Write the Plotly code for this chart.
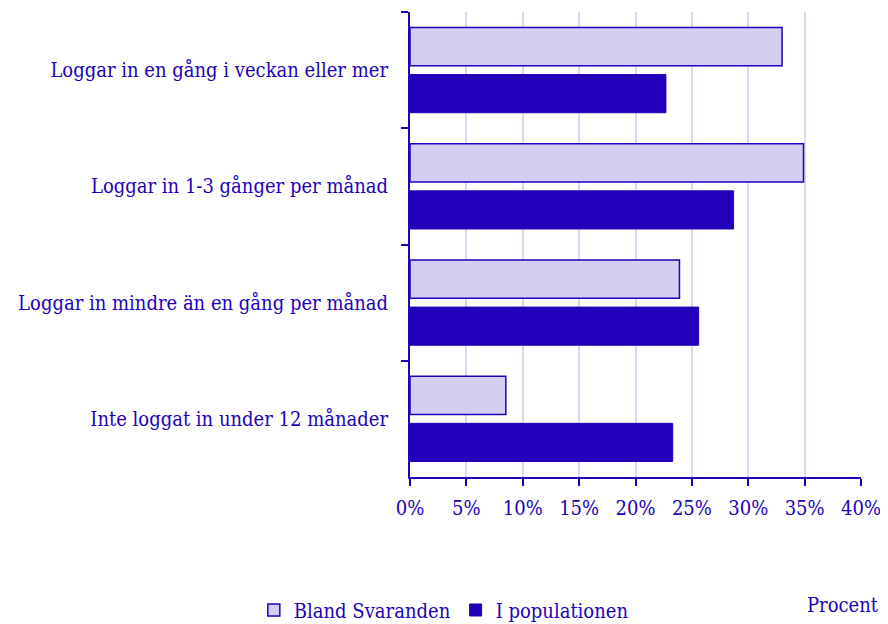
import plotly.graph_objects as go

categories = [
    "Loggar in en gång i veckan eller mer",
    "Loggar in 1-3 gånger per månad",
    "Loggar in mindre än en gång per månad",
    "Inte loggat in under 12 månader",
]
bland_svaranden = [33.0, 34.9, 23.9, 8.5]
i_populationen = [22.7, 28.7, 25.6, 23.3]
tick_vals = [0, 5, 10, 15, 20, 25, 30, 35, 40]
tick_text = ["0%", "5%", "10%", "15%", "20%", "25%", "30%", "35%", "40%"]

BLUE = "#2200bb"
LIGHT = "#d3cef2"
GRID = "#d9d7f1"
FONT = "DejaVu Serif Condensed, DejaVu Serif"

fig = go.Figure()
fig.add_trace(go.Bar(
    y=categories, x=bland_svaranden, orientation="h", name="Bland Svaranden",
    marker=dict(color=LIGHT, line=dict(color=BLUE, width=1.5)),
))
fig.add_trace(go.Bar(
    y=categories, x=i_populationen, orientation="h", name="I populationen",
    marker=dict(color=BLUE, line=dict(color=BLUE, width=1)),
))

fig.update_layout(
    width=888, height=624,
    margin=dict(l=402, r=35, t=4, b=155, autoexpand=False),
    paper_bgcolor="white", plot_bgcolor="white",
    barmode="group", bargap=0.19, bargroupgap=0.19,
    font=dict(family=FONT, color=BLUE, size=20),
    showlegend=True,
    legend=dict(orientation="h", x=0.075, xanchor="center", y=-0.286, yanchor="middle",
                font=dict(size=20), traceorder="normal", itemwidth=30),
    annotations=[dict(text="Procent", xref="paper", yref="paper", x=1.045, y=-0.275,
                      xanchor="right", yanchor="middle", showarrow=False,
                      font=dict(size=20, color=BLUE))],
)
fig.update_xaxes(
    range=[0, 40], tickvals=tick_vals, ticktext=tick_text, automargin=False,
    showgrid=True, gridcolor=GRID, gridwidth=2,
    showline=True, linecolor=BLUE, linewidth=2,
    ticks="outside", ticklen=7, tickcolor=BLUE, tickwidth=2,
    ticklabelstandoff=5, tickfont=dict(size=20),
    zeroline=False, fixedrange=True,
)
fig.update_yaxes(
    autorange="reversed", showgrid=False, automargin=False,
    showline=True, linecolor=BLUE, linewidth=2,
    ticks="outside", tickson="boundaries", ticklen=7, tickcolor=BLUE, tickwidth=2,
    ticklabelstandoff=16, tickfont=dict(size=20),
)

fig.write_html("out.html")
